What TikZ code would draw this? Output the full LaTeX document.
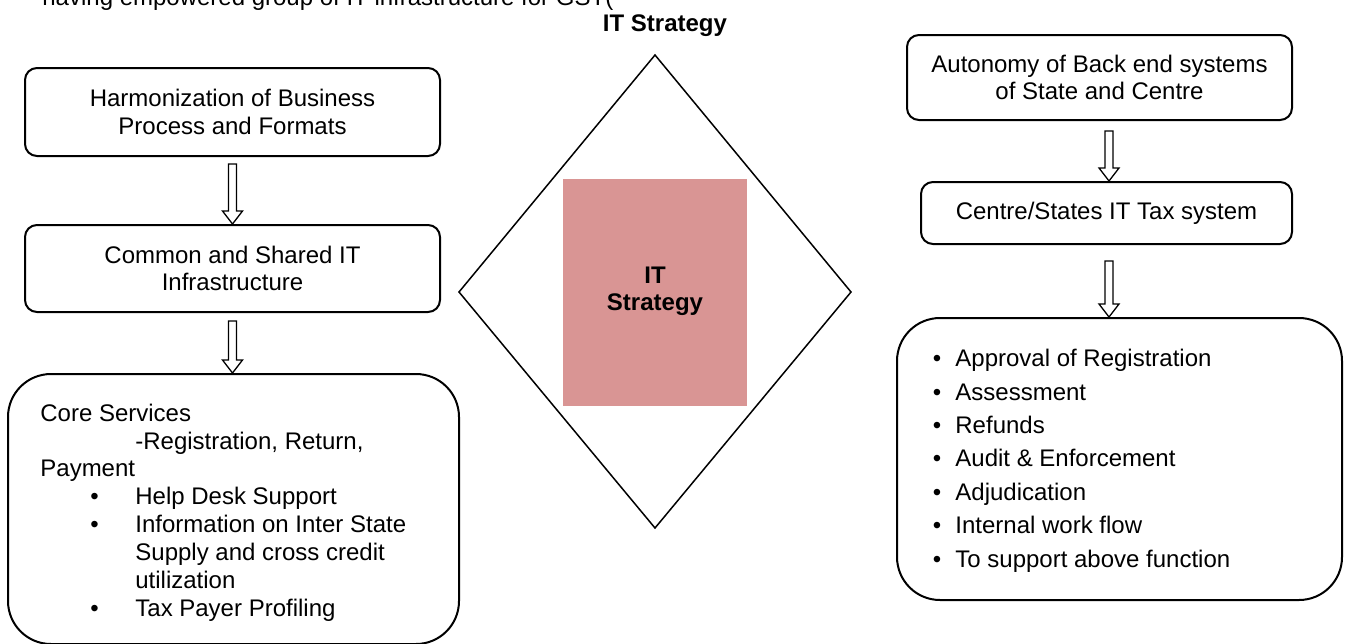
\documentclass[tikz,border=0pt]{standalone}
\usepackage{fontspec}
\setmainfont{Liberation Sans}
\usetikzlibrary{calc}
\definecolor{pinkfill}{HTML}{D99594}
\tikzset{
  basefont/.style={font=\fontsize{12pt}{13.75pt}\selectfont},
  box/.style={draw, line width=1pt, rounded corners=6pt, inner sep=0pt, align=center, basefont},
  bigbox/.style={draw, line width=1pt, rounded corners=21.5pt, inner sep=0pt},
  txt/.style={anchor=base west, inner sep=0pt, basefont},
  bul/.style={anchor=base, inner sep=0pt, basefont},
  blockarrow/.style={draw, line width=0.65pt, fill=white, line join=miter},
  diamondline/.style={draw, line width=0.75pt, line join=miter},
  boldtxt/.style={inner sep=0pt, font=\fontsize{12pt}{13.7pt}\selectfont\bfseries},
}
\newcommand{\blockarr}[2]{%
  \draw[blockarrow] let \p1=(#1), \p2=(#2) in
    (\x1-2pt,\y1) -- (\x1+2pt,\y1) -- (\x1+2pt,\y2+6.5pt) -- (\x1+5pt,\y2+6.5pt)
    -- (\x1,\y2) -- (\x1-5pt,\y2+6.5pt) -- (\x1-2pt,\y2+6.5pt) -- cycle;}
\begin{document}
\begin{tikzpicture}[x=0.5pt,y=-0.5pt]
\useasboundingbox (0,0) rectangle (1348,643);
\begin{scope}
\clip (0,0) rectangle (1348,643);
% intro line (cut at top)
\node[txt] (intro) at (42,5) {having empowered group of IT infrastructure for GST(};
\node[boldtxt, anchor=base] (title) at (665,31) {IT Strategy};

% left column
\node[box, minimum width=207.5pt, minimum height=44pt] (L1) at (232.5,112)
  {Harmonization of Business\\Process and Formats};
\node[box, minimum width=207.5pt, minimum height=43.5pt] (L2) at (232.5,268.5)
  {Common and Shared IT\\Infrastructure};
\node[bigbox, minimum width=225.5pt, minimum height=135pt] (L3) at (233.5,509) {};

\coordinate (a1s) at ([yshift=-3.5pt]L1.south);
\coordinate (a2s) at ([yshift=-4pt]L2.south);
\blockarr{a1s}{L2.north}
\blockarr{a2s}{L3.north}

\node[txt] (c1) at (40,421) {Core Services};
\node[txt] (c2) at (135,449) {-Registration, Return,};
\node[txt] (c3) at (40,476.5) {Payment};
\node[bul] (b1) at (94.5,504.5) {•};
\node[txt] (c4) at (135,504.5) {Help Desk Support};
\node[bul] (b2) at (94.5,532.5) {•};
\node[txt] (c5) at (135,532.5) {Information on Inter State};
\node[txt] (c6) at (135,560.5) {Supply and cross credit};
\node[txt] (c7) at (135,588) {utilization};
\node[bul] (b3) at (94.5,616) {•};
\node[txt] (c8) at (135,616) {Tax Payer Profiling};

% centre diamond
\coordinate (dT) at (655,55);
\coordinate (dR) at (851,292);
\coordinate (dB) at (655,528);
\coordinate (dL) at (459,292);
\draw[diamondline] (dT) -- (dR) -- (dB) -- (dL) -- cycle;
\node[fill=pinkfill, minimum width=92pt, minimum height=113.5pt, inner sep=0pt] (core) at (655,292.5) {};
\node[boldtxt, anchor=base, align=center] (coretxt) at (655,310.7) {IT\\Strategy};

% right column
\node[box, minimum width=192.5pt, minimum height=42.5pt] (R1) at (1099.5,77.5)
  {Autonomy of Back end systems\\of State and Centre};
\node[box, minimum width=185.5pt, minimum height=31pt] (R2) at (1106.5,213)
  {Centre/States IT Tax system};
\node[bigbox, minimum width=222.5pt, minimum height=141pt] (R3) at (1119.5,459) {};

\coordinate (a3s) at ([xshift=4.75pt,yshift=-5pt]R1.south);
\coordinate (a4s) at ([xshift=1.25pt,yshift=-8pt]R2.south);
\blockarr{a3s}{R2.north}
\blockarr{a4s}{R3.north}

\foreach \t [count=\i] in {Approval of Registration, Assessment, Refunds,
    Audit \& Enforcement, Adjudication, Internal work flow, To support above function} {
  \node[bul] (rb\i) at (937,333.3+33.4*\i) {•};
  \node[txt] (r\i) at (955,333.3+33.4*\i) {\t};
}
\end{scope}
\end{tikzpicture}
\end{document}
